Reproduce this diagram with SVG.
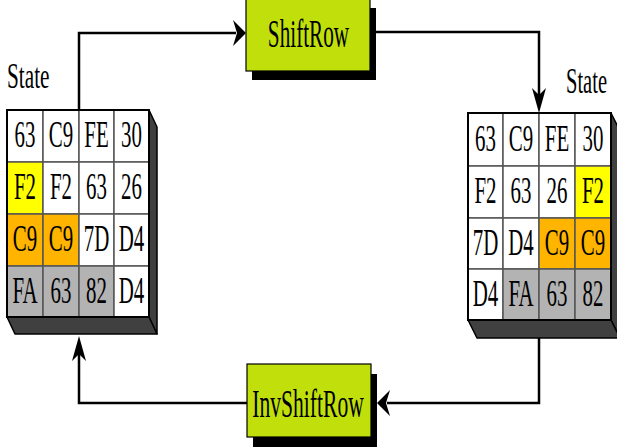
<svg xmlns="http://www.w3.org/2000/svg" width="617" height="447" viewBox="0 0 617 447">
  <style>
    .t { font-family: "Liberation Serif", "Times New Roman", serif; fill: #000; }
    .cell { font-size: 38px; text-anchor: middle; }
    .lbl { font-size: 36px; }
    .op { font-size: 40px; text-anchor: middle; }
    .c { stroke: #555; stroke-width: 1.5; }
    .w { fill: #fff; }
    .y { fill: #ffff00; }
    .o { fill: #ffb400; }
    .g { fill: #b3b3b3; }
    .edge { fill: #404040; stroke: #000; stroke-width: 1.5; stroke-linejoin: round; }
    .frame { fill: none; stroke: #000; stroke-width: 2; }
    .box { fill: #c1e00b; stroke: #000; stroke-width: 1.2; }
    .shadow { fill: #000; }
    .line { fill: none; stroke: #000; stroke-width: 2.5; }
  </style>
  <defs>
    <!-- notched arrowheads, tip at origin -->
    <path id="ah" d="M0,0 L-13,-13 L-9,0 L-13,13 Z" fill="#000"/>
    <path id="av" d="M0,0 L-7,-25 L0,-18 L7,-25 Z" fill="#000"/>
  </defs>

  <!-- connectors -->
  <g id="connectors">
    <polyline class="line" points="79,110 79,33 236,33"/>
    <use href="#ah" transform="translate(246,33)"/>
    <polyline class="line" points="376,32 539,32 539,96"/>
    <use href="#av" transform="translate(539,113)"/>
    <polyline class="line" points="539,338 539,403 387,403"/>
    <use href="#ah" transform="translate(377,403) scale(-1,1)"/>
    <polyline class="line" points="247,403 79,403 79,352"/>
    <use href="#av" transform="translate(79,336) scale(1,-1)"/>
  </g>

  <!-- left state matrix -->
  <g id="state-left">
    <polygon class="edge" points="149,110 157,127 157,334 149,317"/>
    <polygon class="edge" points="7,317 149,317 157,334 15,334"/>
    <g class="c">
      <rect class="w" x="7" y="110" width="36" height="52"/>
      <rect class="w" x="43" y="110" width="36" height="52"/>
      <rect class="w" x="79" y="110" width="35" height="52"/>
      <rect class="w" x="114" y="110" width="35" height="52"/>
      <rect class="y" x="7" y="162" width="36" height="52"/>
      <rect class="w" x="43" y="162" width="36" height="52"/>
      <rect class="w" x="79" y="162" width="35" height="52"/>
      <rect class="w" x="114" y="162" width="35" height="52"/>
      <rect class="o" x="7" y="214" width="36" height="52"/>
      <rect class="o" x="43" y="214" width="36" height="52"/>
      <rect class="w" x="79" y="214" width="35" height="52"/>
      <rect class="w" x="114" y="214" width="35" height="52"/>
      <rect class="g" x="7" y="266" width="36" height="51"/>
      <rect class="g" x="43" y="266" width="36" height="51"/>
      <rect class="g" x="79" y="266" width="35" height="51"/>
      <rect class="w" x="114" y="266" width="35" height="51"/>
    </g>
    <rect class="frame" x="7" y="110" width="142" height="207"/>
    <g class="t cell">
      <text transform="translate(25,147) scale(0.55,1)">63</text>
      <text transform="translate(61,147) scale(0.55,1)">C9</text>
      <text transform="translate(96.5,147) scale(0.55,1)">FE</text>
      <text transform="translate(131.5,147) scale(0.55,1)">30</text>
      <text transform="translate(25,199) scale(0.55,1)">F2</text>
      <text transform="translate(61,199) scale(0.55,1)">F2</text>
      <text transform="translate(96.5,199) scale(0.55,1)">63</text>
      <text transform="translate(131.5,199) scale(0.55,1)">26</text>
      <text transform="translate(25,251) scale(0.55,1)">C9</text>
      <text transform="translate(61,251) scale(0.55,1)">C9</text>
      <text transform="translate(96.5,251) scale(0.55,1)">7D</text>
      <text transform="translate(131.5,251) scale(0.55,1)">D4</text>
      <text transform="translate(25,303) scale(0.55,1)">FA</text>
      <text transform="translate(61,303) scale(0.55,1)">63</text>
      <text transform="translate(96.5,303) scale(0.55,1)">82</text>
      <text transform="translate(131.5,303) scale(0.55,1)">D4</text>
    </g>
    <text class="t lbl" transform="translate(7,88) scale(0.59,1)">State</text>
  </g>

  <!-- right state matrix -->
  <g id="state-right">
    <polygon class="edge" points="611,113 620,131 620,338 611,320"/>
    <polygon class="edge" points="468,320 611,320 620,338 477,338"/>
    <g class="c">
      <rect class="w" x="468" y="113" width="35" height="53"/>
      <rect class="w" x="503" y="113" width="36" height="53"/>
      <rect class="w" x="539" y="113" width="36" height="53"/>
      <rect class="w" x="575" y="113" width="36" height="53"/>
      <rect class="w" x="468" y="166" width="35" height="52"/>
      <rect class="w" x="503" y="166" width="36" height="52"/>
      <rect class="w" x="539" y="166" width="36" height="52"/>
      <rect class="y" x="575" y="166" width="36" height="52"/>
      <rect class="w" x="468" y="218" width="35" height="51"/>
      <rect class="w" x="503" y="218" width="36" height="51"/>
      <rect class="o" x="539" y="218" width="36" height="51"/>
      <rect class="o" x="575" y="218" width="36" height="51"/>
      <rect class="w" x="468" y="269" width="35" height="51"/>
      <rect class="g" x="503" y="269" width="36" height="51"/>
      <rect class="g" x="539" y="269" width="36" height="51"/>
      <rect class="g" x="575" y="269" width="36" height="51"/>
    </g>
    <rect class="frame" x="468" y="113" width="143" height="207"/>
    <g class="t cell">
      <text transform="translate(485.5,151) scale(0.55,1)">63</text>
      <text transform="translate(521,151) scale(0.55,1)">C9</text>
      <text transform="translate(557,151) scale(0.55,1)">FE</text>
      <text transform="translate(593,151) scale(0.55,1)">30</text>
      <text transform="translate(485.5,203) scale(0.55,1)">F2</text>
      <text transform="translate(521,203) scale(0.55,1)">63</text>
      <text transform="translate(557,203) scale(0.55,1)">26</text>
      <text transform="translate(593,203) scale(0.55,1)">F2</text>
      <text transform="translate(485.5,255) scale(0.55,1)">7D</text>
      <text transform="translate(521,255) scale(0.55,1)">D4</text>
      <text transform="translate(557,255) scale(0.55,1)">C9</text>
      <text transform="translate(593,255) scale(0.55,1)">C9</text>
      <text transform="translate(485.5,306) scale(0.55,1)">D4</text>
      <text transform="translate(521,306) scale(0.55,1)">FA</text>
      <text transform="translate(557,306) scale(0.55,1)">63</text>
      <text transform="translate(593,306) scale(0.55,1)">82</text>
    </g>
    <text class="t lbl" transform="translate(566,93) scale(0.57,1)">State</text>
  </g>

  <!-- ShiftRow operation -->
  <g id="shiftrow">
    <rect class="shadow" x="252" y="8" width="124" height="72"/>
    <rect class="box" x="246" y="-1" width="124" height="72"/>
    <text class="t op" transform="translate(308.5,47) scale(0.53,1)">ShiftRow</text>
  </g>

  <!-- InvShiftRow operation -->
  <g id="invshiftrow">
    <rect class="shadow" x="253" y="374" width="124" height="73"/>
    <rect class="box" x="247" y="364" width="124" height="73"/>
    <text class="t op" transform="translate(308,417) scale(0.54,1)">InvShiftRow</text>
  </g>
</svg>
